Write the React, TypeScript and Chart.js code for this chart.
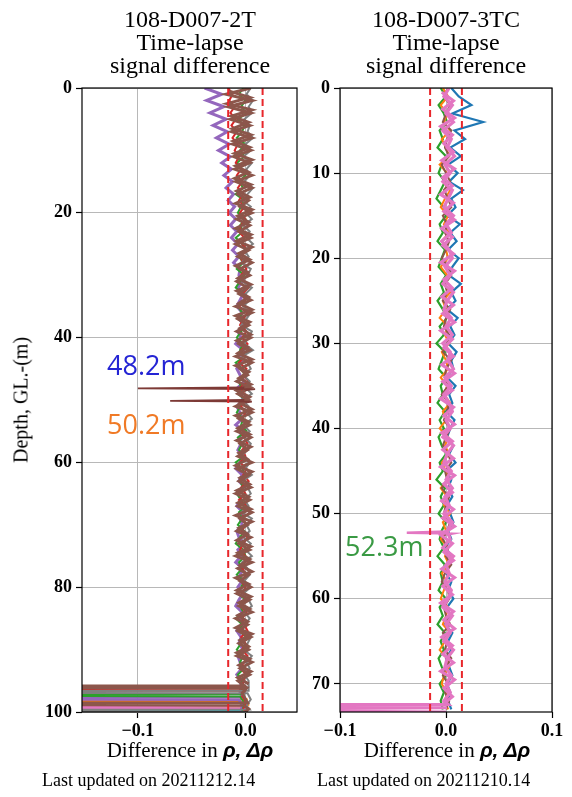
import React, { useEffect, useRef } from 'react';
import { Chart, registerables } from 'chart.js';
Chart.register(...registerables);

// ---------- tick labels ----------
const xTicksL = [-0.1, 0.0];
const xTicksR = [-0.1, 0.0, 0.1];
const yTicksL = [0, 20, 40, 60, 80, 100];
const yTicksR = [0, 10, 20, 30, 40, 50, 60, 70];

// ---------- depth grids (m) ----------
const depthL = [0,1,2,3,4,5,6,7,8,9,10,11,12,13,14,15,16,17,18,19,20,21,22,23,24,25,26,27,28,29,30,31,32,33,34,35,36,37,38,39,40,41,42,43,44,45,46,47,48,49,50,51,52,53,54,55,56,57,58,59,60,61,62,63,64,65,66,67,68,69,70,71,72,73,74,75,76,77,78,79,80,81,82,83,84,85,86,87,88,89,90,91,92,93,94,95];
const depthLh = [0.5,1.5,2.5,3.5,4.5,5.5,6.5,7.5,8.5,9.5,10.5,11.5,12.5,13.5,14.5,15.5,16.5,17.5,18.5,19.5,20.5,21.5,22.5,23.5,24.5,25.5,26.5,27.5,28.5,29.5,30.5,31.5,32.5,33.5,34.5,35.5,36.5,37.5,38.5,39.5,40.5,41.5,42.5,43.5,44.5,45.5,46.5,47.5,48.5,49.5,50.5,51.5,52.5,53.5,54.5,55.5,56.5,57.5,58.5,59.5,60.5,61.5,62.5,63.5,64.5,65.5,66.5,67.5,68.5,69.5,70.5,71.5,72.5,73.5,74.5,75.5,76.5,77.5,78.5,79.5,80.5,81.5,82.5,83.5,84.5,85.5,86.5,87.5,88.5,89.5,90.5,91.5,92.5,93.5,94.5,95.5];
const depthR = [0,1,2,3,4,5,6,7,8,9,10,11,12,13,14,15,16,17,18,19,20,21,22,23,24,25,26,27,28,29,30,31,32,33,34,35,36,37,38,39,40,41,42,43,44,45,46,47,48,49,50,51,52,53,54,55,56,57,58,59,60,61,62,63,64,65,66,67,68,69,70,71,72,73];
const depthRh = [0.5,1.5,2.5,3.5,4.5,5.5,6.5,7.5,8.5,9.5,10.5,11.5,12.5,13.5,14.5,15.5,16.5,17.5,18.5,19.5,20.5,21.5,22.5,23.5,24.5,25.5,26.5,27.5,28.5,29.5,30.5,31.5,32.5,33.5,34.5,35.5,36.5,37.5,38.5,39.5,40.5,41.5,42.5,43.5,44.5,45.5,46.5,47.5,48.5,49.5,50.5,51.5,52.5,53.5,54.5,55.5,56.5,57.5,58.5,59.5,60.5,61.5,62.5,63.5,64.5,65.5,66.5,67.5,68.5,69.5,70.5,71.5,72.5];

// ---------- left panel (108-D007-2T), values in 1e-3 ----------
const brownL = [5,-18,6,-16,5,-14,4,-13,6,-12, 5,-11,4,-10,6,-9,6,-7,3,-5, 6,-8,4,-6,5,-9,3,-7,6,-5, 4,-8,2,-6,5,-9,6,-7,3,-8, 5,-6,4,-9,6,-5,2,-8,5,-7, 3,-9,6,-6,4,-8,5,-5,2,-7, 6,-8,3,-6,5,-9,4,-7,6,-5, 2,-8,5,-6,4,-9,6,-7,3,-5, 5,-8,4,-6,6,-9,2,-7,5,-6, 3,-8,6,-5,4,-7];
const brownL2 = [-15,4,-17,6,-13,3,-12,5,-11,4, -10,6,-9,3,-10,5,-8,4,-9,6, -7,3,-9,5,-8,6,-6,4,-9,2, -7,5,-8,3,-6,6,-9,4,-5,5, -8,2,-7,6,-9,3,-6,5,-8,4, -5,6,-9,3,-7,4,-8,5,-6,2, -9,6,-5,4,-8,3,-7,5,-9,6, -6,2,-8,5,-7,4,-5,6,-9,3, -8,5,-6,4,-7,2,-9,6,-5,3, -8,4,-6,5,-7,3];
const purpleL = [-38,-22,-36,-20,-33,-18,-30,-17,-27,-15, -25,-14,-22,-13,-20,-12,-18,-11,-16,-10, -15,-9,-14,-8,-13,-7,-12,-6,-11,-5, -6,-3,-7,-2,-5,-8,-3,-6,-1,-7, -4,-9,-2,-6,-3,-8,-5,-1,-7,-4, -2,-8,-5,-3,-9,-1,-6,-4,-7,-2, -5,-9,-3,-6,-1,-7,-4,-8,-2,-5, -3,-8,-6,-1,-7,-4,-9,-2,-5,-3, -7,-2,-6,-9,-3,-5,-1,-8,-4,-6, -2,-7,-5,-3,-8,-4];
const redL = [-16,-12,-15,-10,-14,-9,-13,-8,-12,-7, -10,-6,-9,-4,-8,-3,-7,-2,-6,-1, -5,0,-4,-6,-1,-3,2,-5,-2,1, -4,-1,3,-3,0,-6,2,-2,-5,1, -3,2,-4,0,-6,1,-2,3,-5,-1, 2,-4,0,-3,3,-5,-1,2,-3,0, -5,1,-2,3,-4,0,-6,2,-1,-3, 1,-4,2,-2,-5,0,3,-3,1,-4, 0,-2,3,-5,1,-3,-1,2,-4,0, -3,2,-1,-5,1,-2];
const grayL = [5,1,7,3,6,-1,4,2,7,0, 5,-2,6,1,4,-1,7,2,-3,5, 0,6,-2,4,1,7,-1,3,-4,5, 2,-3,6,0,4,-2,5,1,-4,6, 3,-1,7,-3,2,5,-2,4,0,6, -3,3,1,6,-2,4,-1,5,2,-4, 4,0,6,-3,2,5,-1,3,-4,6, 1,4,-2,5,0,6,-3,2,4,-1, 5,-2,3,6,-1,4,0,-3,5,2, -2,6,1,4,-1,3];
const greenL = [-2,-6,0,-4,1,-7,-1,-3,-8,0, -5,-1,-8,-3,0,-6,-2,-9,-1,-4, -7,0,-5,-2,-9,-3,1,-6,-2,-8, -1,-5,-9,-2,0,-7,-3,-6,1,-4, -8,-2,-5,0,-9,-3,-1,-6,-4,-7, 0,-5,-8,-2,-4,1,-7,-3,-6,-1, -9,-3,0,-5,-2,-8,-4,1,-6,-3, -7,-1,-5,-9,-2,0,-6,-3,-8,-1, -4,-7,0,-5,-2,-9,-3,-6,1,-4, -8,-2,-5,-1,-7,-3];

// bottom tails (readings that run off to the left below ~96 m)
const brownTailD = [95.8, 95.9, 96.1, 96.2, 97, 98.5, 98.6, 98.8, 98.9, 99.5, 100];
const brownTailV = [-1, -300, -300, 1, -3, 2, -300, -300, -2, 3, 0];
const redTailD = [96.2, 96.3, 96.5, 96.6, 97.5, 98.5, 99.5, 100];
const redTailV = [-2, -300, -300, 0, -3, 1, -2, 0];
const grayTailD = [96.6, 96.7, 96.9, 97.0, 98, 99, 99.6, 99.7, 99.8, 100];
const grayTailV = [3, -300, -300, 2, 5, 1, 4, -300, -300, 2];
const greenTailD = [96.0, 97.1, 97.2, 97.4, 97.5, 98.5, 100];
const greenTailV = [-4, -2, -300, -300, -5, -1, -3];
const purpleTailD = [97.0, 97.6, 97.7, 97.9, 98.0, 99, 100];
const purpleTailV = [-5, -2, -300, -300, -6, -3, -4];
const orangeTailD = [97.9, 98.0, 98.1, 98.3, 98.4, 99.0];
const orangeTailV = [2, 0, -300, -300, 1, 3];
const pinkTailLD = [98.9, 99.0, 99.1, 99.3, 99.4];
const pinkTailLV = [1, -1, -300, -300, 0];
const oliveTailD = [99.1, 99.2, 99.3, 99.4];
const oliveTailV = [2, 1, -300, -300];
const blueTailLD = [99.3, 99.4, 99.5, 99.6];
const blueTailLV = [0, -2, -300, -300];
const cyanTailD = [99.7, 99.8, 99.9, 100.0];
const cyanTailV = [2, 0, -300, -300];

// anomalies at 48.2 m and 50.2 m
const spike482D = [48.0, 48.15, 48.25, 48.4];
const spike482V = [-1, -100, 9, 0];
const spike502D = [50.0, 50.15, 50.25, 50.4];
const spike502V = [-1, -70, 6, 0];

// threshold lines
const dashDL = [0, 100];
const dashLoL = [-16, -16];
const dashHiL = [16, 16];

// ---------- right panel (108-D007-3TC), values in 1e-3 ----------
const pinkR = [3,-2,6,0,7,-3,5,1,8,-1, 4,-3,6,2,-2,7,0,5,-4,3, 6,-1,4,-3,7,1,-2,5,0,6, -3,4,2,7,-1,5,-2,3,6,0, 4,-3,7,1,-2,5,0,6,-1,3, -2,6,1,4,-3,7,0,3,-1,5, 2,-3,6,0,4,-2,7,1,-1,5, 0,4,-2];
const pinkR2 = [-4,7,-3,8,-5,6,-2,7,-4,8, -3,6,-5,7,-2,8,-4,6,-3,7, -5,8,-2,6,-4,7,-3,8,-5,6, -2,7,-4,8,-3,6,-5,7,-2,8, -4,6,-3,7,-5,8,-2,6,-4,7, -3,8,-5,6,-2,7,-4,8,-3,6, -5,7,-2,8,-4,6,-3,7,-5,8, -2,6,-4];
const blueR = [5,12,24,6,35,8,18,4,14,2, 11,3,16,5,9,1,13,4,10,2, 12,6,3,14,5,9,1,11,4,8, 2,10,5,7,1,9,3,6,0,8, 4,1,7,3,9,0,5,2,6,1, 4,7,2,5,-1,6,3,0,5,2, 7,1,4,-1,6,2,5,0,3,6, 1,4,2,5];
const orangeR = [-3,2,-5,1,-2,4,-4,0,3,-6, 1,-3,4,-1,-5,2,-2,3,-4,0, 2,-5,1,-2,4,-3,0,-6,2,-1, 3,-4,0,2,-5,1,-2,4,-3,0, -6,2,-1,3,-4,0,2,-5,1,-2, 4,-3,0,-5,2,-1,3,-4,1,-2, -5,2,0,-3,4,-1,-6,1,3,-2, -4,1,-1,2];
const greenR = [-5,0,-7,-2,1,-6,-3,-8,0,-4, -7,-1,-5,-9,-2,0,-6,-3,-8,-1, -4,-7,0,-5,-2,-8,-3,1,-6,-2, -9,-1,-4,-7,0,-5,-3,-8,-1,-6, -2,-7,-4,0,-6,-3,-9,-1,-5,-2, -7,0,-4,-6,-2,-8,-1,-5,-3,-7, 0,-6,-3,-8,-1,-5,-2,-7,-4,0, -6,-2,-5,-3];
const brownR = [2,-2,4,0,-3,5,1,-1,3,-4, 0,4,-2,2,5,-3,1,-1,3,0, -4,2,5,-1,1,-3,4,0,-2,3, 1,-3,5,0,-1,2,-4,3,1,-2, 4,0,-3,2,5,-1,1,-4,3,0, -2,4,1,-3,2,0,5,-1,-4,2, 3,-2,0,4,-3,1,-1,5,0,-3, 2,-1,3,0];
const pinkTailRD = [72.4, 72.5, 72.7, 72.8, 73.0, 73.1, 73.3];
const pinkTailRV = [2, -300, -300, 1, -300, -300, 0];
const spike523D = [52.1, 52.25, 52.35, 52.5];
const spike523V = [1, -37, 6, 0];
const dashDR = [0, 73.3];
const dashLoR = [-15, -15];
const dashHiR = [15, 15];

// ---------- helpers ----------
const C = {
  blue: '#1f77b4', orange: '#ff7f0e', green: '#2ca02c', red: '#d62728', purple: '#9467bd',
  brown: '#8c564b', pink: '#e377c2', gray: '#7f7f7f', olive: '#bcbd22', cyan: '#17becf',
};

function pts(depths: number[], vals: number[]) {
  return vals.map((v, i) => ({ x: v / 1000, y: depths[i] }));
}

type S = { color: string; parts: [number[], number[]][]; width?: number; dash?: number[] };

function makeDatasets(series: S[]) {
  return series.map((s) => ({
    data: s.parts.flatMap(([d, v]) => pts(d, v)),
    showLine: true,
    borderColor: s.color,
    backgroundColor: s.color,
    borderWidth: s.width ?? 2,
    borderDash: s.dash ?? [],
    pointRadius: 0,
    pointHoverRadius: 0,
    fill: false,
    tension: 0,
  }));
}

const seriesL: S[] = [
  { color: '#e8262b', parts: [[dashDL, dashLoL]], width: 2, dash: [7, 4] },
  { color: '#e8262b', parts: [[dashDL, dashHiL]], width: 2, dash: [7, 4] },
  { color: '#7d3a36', parts: [[spike482D, spike482V]], width: 1.8 },
  { color: '#7d3a36', parts: [[spike502D, spike502V]], width: 1.8 },
  { color: C.brown, parts: [[depthL, brownL], [brownTailD, brownTailV]], width: 3 },
  { color: C.brown, parts: [[depthLh, brownL2]], width: 3 },
  { color: C.gray, parts: [[depthL, grayL], [grayTailD, grayTailV]] },
  { color: C.red, parts: [[depthL, redL], [redTailD, redTailV]] },
  { color: C.green, parts: [[depthL, greenL], [greenTailD, greenTailV]] },
  { color: C.purple, parts: [[depthL, purpleL], [purpleTailD, purpleTailV]], width: 3 },
  { color: C.orange, parts: [[orangeTailD, orangeTailV]], width: 2.2 },
  { color: C.pink, parts: [[pinkTailLD, pinkTailLV]], width: 2.2 },
  { color: C.olive, parts: [[oliveTailD, oliveTailV]], width: 2.2 },
  { color: C.blue, parts: [[blueTailLD, blueTailLV]], width: 2.2 },
  { color: C.cyan, parts: [[cyanTailD, cyanTailV]], width: 2.2 },
];

const seriesR: S[] = [
  { color: '#e8262b', parts: [[dashDR, dashLoR]], width: 2, dash: [7, 4] },
  { color: '#e8262b', parts: [[dashDR, dashHiR]], width: 2, dash: [7, 4] },
  { color: C.pink, parts: [[spike523D, spike523V]], width: 2.4 },
  { color: C.pink, parts: [[depthR, pinkR], [pinkTailRD, pinkTailRV]], width: 3.2 },
  { color: C.pink, parts: [[depthRh, pinkR2]], width: 3.2 },
  { color: C.brown, parts: [[depthR, brownR]] },
  { color: C.orange, parts: [[depthR, orangeR]] },
  { color: C.green, parts: [[depthR, greenR]], width: 2.2 },
  { color: C.blue, parts: [[depthR, blueR]], width: 2.2 },
];

const fmtX = (v: number) => (Math.abs(v) < 1e-9 ? '0.0' : (v < 0 ? '\u2212' : '') + Math.abs(v).toFixed(1));

const framePlugin = {
  id: 'frame',
  afterDraw(chart: any) {
    const { ctx, chartArea } = chart;
    const { left, top, right, bottom } = chartArea;
    ctx.save();
    ctx.strokeStyle = '#000';
    ctx.lineWidth = 1.2;
    ctx.strokeRect(left, top, right - left, bottom - top);
    ctx.restore();
  },
};

const tickFont = { family: '"Liberation Serif", "Times New Roman", serif', size: 18, weight: 'bold' as const };

type PanelProps = {
  left: number; width: number; series: S[]; xMin: number; xMax: number; xTicks: number[];
  yMax: number; yTicks: number[]; padRight: number; axisWidth: number;
};

function Panel(p: PanelProps) {
  const ref = useRef<HTMLCanvasElement>(null);
  useEffect(() => {
    const chart = new Chart(ref.current as HTMLCanvasElement, {
      type: 'scatter',
      data: { datasets: makeDatasets(p.series) as any },
      options: {
        responsive: false,
        animation: false,
        events: [],
        layout: { padding: { top: 88, right: p.padRight, left: 0, bottom: 0 } },
        plugins: { legend: { display: false }, tooltip: { enabled: false } },
        scales: {
          x: {
            type: 'linear', min: p.xMin, max: p.xMax,
            afterBuildTicks: (s: any) => { s.ticks = p.xTicks.map((v) => ({ value: v })); },
            afterFit: (s: any) => { s.height = 85; },
            ticks: { callback: (v: any) => fmtX(Number(v)), font: tickFont, color: '#000', padding: 3, maxRotation: 0, autoSkip: false },
            grid: { color: '#b8b8b8', lineWidth: 1, tickColor: '#000', tickLength: 6, tickWidth: 1.2 },
            border: { display: false },
          },
          y: {
            type: 'linear', reverse: true, min: 0, max: p.yMax,
            afterBuildTicks: (s: any) => { s.ticks = p.yTicks.map((v) => ({ value: v })); },
            afterFit: (s: any) => { s.width = p.axisWidth; },
            ticks: { callback: (v: any) => String(v), font: tickFont, color: '#000', padding: 4, autoSkip: false },
            grid: { color: '#b8b8b8', lineWidth: 1, tickColor: '#000', tickLength: 6, tickWidth: 1.2 },
            border: { display: false },
          },
        },
      },
      plugins: [framePlugin],
    });
    return () => chart.destroy();
  }, []);
  return <canvas ref={ref} width={p.width} height={797} style={{ position: 'absolute', left: p.left, top: 0 }} />;
}

const serif = '"Liberation Serif", "Times New Roman", serif';
const sansAnn = '"Open Sans", "Liberation Sans", sans-serif';

function Title({ center, lines }: { center: number; lines: string[] }) {
  return (
    <div style={{ position: 'absolute', left: center - 120, width: 240, top: 8, textAlign: 'center', fontFamily: serif, fontSize: 24, lineHeight: '23px', color: '#000', whiteSpace: 'nowrap' }}>
      {lines.map((l, i) => <div key={i}>{l}</div>)}
    </div>
  );
}

function XLabel({ center }: { center: number }) {
  return (
    <div style={{ position: 'absolute', left: center - 110, width: 220, top: 739, textAlign: 'center', fontFamily: serif, fontSize: 21, lineHeight: '21px', whiteSpace: 'nowrap', color: '#000' }}>
      Difference in <span style={{ fontFamily: '"Liberation Sans", Arial, sans-serif', fontWeight: 'bold', fontStyle: 'italic' }}>ρ, Δρ</span>
    </div>
  );
}

export default function App() {
  return (
    <div style={{ position: 'absolute', left: 0, top: 0, width: 572, height: 797, overflow: 'hidden', background: '#fff' }}>
      <Panel left={0} width={300} series={seriesL} xMin={-0.152} xMax={0.048} xTicks={xTicksL} yMax={100} yTicks={yTicksL} padRight={3} axisWidth={82} />
      <Panel left={300} width={272} series={seriesR} xMin={-0.1} xMax={0.1} xTicks={xTicksR} yMax={73.3} yTicks={yTicksR} padRight={20} axisWidth={40} />
      <Title center={190} lines={['108-D007-2T', 'Time-lapse', 'signal difference']} />
      <Title center={446} lines={['108-D007-3TC', 'Time-lapse', 'signal difference']} />
      <div style={{ position: 'absolute', left: 21, top: 400, transform: 'translate(-50%, -50%) rotate(-90deg)', fontFamily: serif, fontSize: 20, whiteSpace: 'nowrap', color: '#000' }}>Depth, GL.-(m)</div>
      <XLabel center={190} />
      <XLabel center={447} />
      <div style={{ position: 'absolute', left: 42, top: 771, fontFamily: serif, fontSize: 18, lineHeight: '18px', whiteSpace: 'nowrap', color: '#000' }}>Last updated on 20211212.14</div>
      <div style={{ position: 'absolute', left: 317, top: 771, fontFamily: serif, fontSize: 18, lineHeight: '18px', whiteSpace: 'nowrap', color: '#000' }}>Last updated on 20211210.14</div>
      <div style={{ position: 'absolute', left: 107, top: 351, fontFamily: sansAnn, fontSize: 27, lineHeight: '27px', color: '#2424d4', whiteSpace: 'nowrap' }}>48.2m</div>
      <div style={{ position: 'absolute', left: 107, top: 410, fontFamily: sansAnn, fontSize: 27, lineHeight: '27px', color: '#f07a26', whiteSpace: 'nowrap' }}>50.2m</div>
      <div style={{ position: 'absolute', left: 345, top: 532, fontFamily: sansAnn, fontSize: 27, lineHeight: '27px', color: '#3a9a44', whiteSpace: 'nowrap' }}>52.3m</div>
    </div>
  );
}
